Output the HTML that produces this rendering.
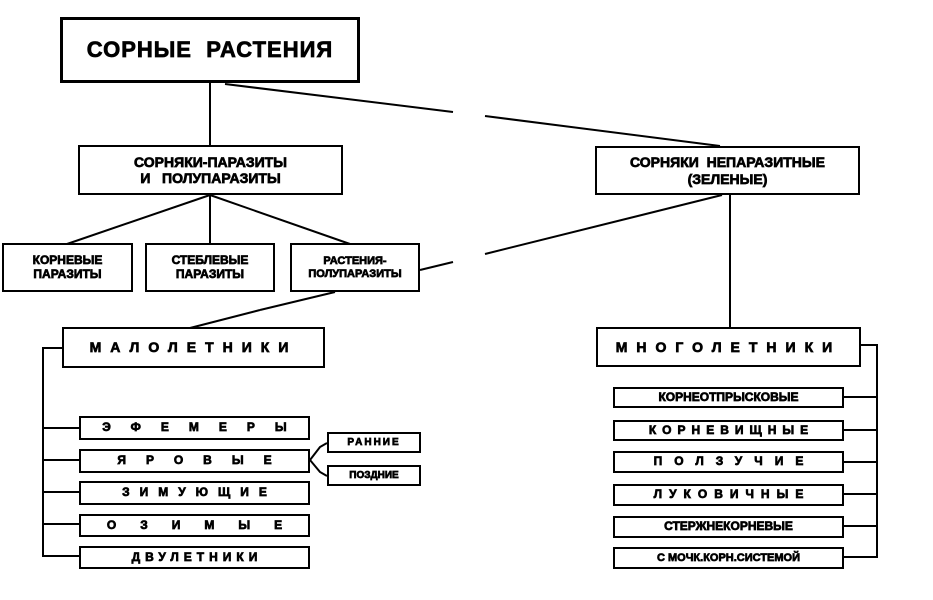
<!DOCTYPE html>
<html><head><meta charset="utf-8"><style>
body{margin:0;background:#fff;width:933px;height:600px;overflow:hidden;position:relative;font-family:"Liberation Sans","DejaVu Sans",sans-serif;font-weight:bold;color:#000}
.b{position:absolute;border:2px solid #000;box-sizing:border-box;display:flex;align-items:center;justify-content:center;text-align:center;background:#fff;line-height:1.15;white-space:nowrap;-webkit-text-stroke:0.7px #000}
svg{position:absolute;left:0;top:0}
</style></head><body>
<svg width="933" height="600"><g stroke="#000" stroke-width="2" fill="none">
<line x1="210" y1="83" x2="210" y2="146"/>
<line x1="225" y1="84" x2="453" y2="112"/>
<line x1="485" y1="116" x2="720" y2="146"/>
<line x1="210" y1="195" x2="67" y2="244"/>
<line x1="210" y1="195" x2="210" y2="244"/>
<line x1="210" y1="195" x2="350" y2="244"/>
<line x1="420" y1="270" x2="453" y2="262"/>
<line x1="485" y1="254" x2="722" y2="195"/>
<line x1="335" y1="292" x2="260" y2="310"/>
<line x1="260" y1="310" x2="190" y2="328"/>
<line x1="730" y1="195" x2="730" y2="328"/>
<polyline points="62,348 43,348 43,556 79,556"/>
<line x1="43" y1="428" x2="79" y2="428"/>
<line x1="43" y1="460" x2="79" y2="460"/>
<line x1="43" y1="492" x2="79" y2="492"/>
<line x1="43" y1="524" x2="79" y2="524"/>
<polyline points="327,443 320,447 310,460 320,472 327,476"/>
<polyline points="861,345 877,345 877,557 844,557"/>
<line x1="844" y1="397" x2="877" y2="397"/>
<line x1="844" y1="430" x2="877" y2="430"/>
<line x1="844" y1="462" x2="877" y2="462"/>
<line x1="844" y1="494" x2="877" y2="494"/>
<line x1="844" y1="526" x2="877" y2="526"/>
</g></svg>
<div class="b" style="left:60px;top:17px;width:300px;height:66px;border-width:3px;font-size:22px;letter-spacing:1px">СОРНЫЕ&nbsp; РАСТЕНИЯ</div>
<div class="b" style="left:78px;top:145px;width:265px;height:50px;font-size:14px">СОРНЯКИ-ПАРАЗИТЫ<br>И&nbsp;&nbsp; ПОЛУПАРАЗИТЫ</div>
<div class="b" style="left:595px;top:146px;width:265px;height:49px;font-size:14px">СОРНЯКИ&nbsp; НЕПАРАЗИТНЫЕ<br>(ЗЕЛЕНЫЕ)</div>
<div class="b" style="left:2px;top:243px;width:131px;height:49px;font-size:12px">КОРНЕВЫЕ<br>ПАРАЗИТЫ</div>
<div class="b" style="left:145px;top:243px;width:130px;height:49px;font-size:12px">СТЕБЛЕВЫЕ<br>ПАРАЗИТЫ</div>
<div class="b" style="left:290px;top:243px;width:130px;height:49px;font-size:11px">РАСТЕНИЯ-<br>ПОЛУПАРАЗИТЫ</div>
<div class="b" style="left:62px;top:327px;width:263px;height:41px;font-size:14px;letter-spacing:9px">МАЛОЛЕТНИКИ</div>
<div class="b" style="left:596px;top:327px;width:265px;height:40px;font-size:14px;letter-spacing:9px">МНОГОЛЕТНИКИ</div>
<div class="b" style="left:79px;top:416px;width:231px;height:24px;font-size:12px;letter-spacing:20px;padding-left:20px">ЭФЕМЕРЫ</div>
<div class="b" style="left:79px;top:449px;width:231px;height:24px;font-size:12px;letter-spacing:20px;padding-left:20px">ЯРОВЫЕ</div>
<div class="b" style="left:79px;top:481px;width:231px;height:24px;font-size:12px;letter-spacing:10px;padding-left:10px">ЗИМУЮЩИЕ</div>
<div class="b" style="left:79px;top:514px;width:231px;height:23px;font-size:12px;letter-spacing:24px;padding-left:24px">ОЗИМЫЕ</div>
<div class="b" style="left:79px;top:546px;width:231px;height:23px;font-size:12px;letter-spacing:5px;padding-left:5px">ДВУЛЕТНИКИ</div>
<div class="b" style="left:327px;top:432px;width:94px;height:21px;font-size:10px;letter-spacing:2px">РАННИЕ</div>
<div class="b" style="left:327px;top:465px;width:94px;height:21px;font-size:10px">ПОЗДНИЕ</div>
<div class="b" style="left:613px;top:387px;width:231px;height:21px;font-size:12px">КОРНЕОТПРЫСКОВЫЕ</div>
<div class="b" style="left:613px;top:420px;width:231px;height:21px;font-size:12px;letter-spacing:6px;padding-left:6px">КОРНЕВИЩНЫЕ</div>
<div class="b" style="left:613px;top:451px;width:231px;height:22px;font-size:12px;letter-spacing:12px;padding-left:12px">ПОЛЗУЧИЕ</div>
<div class="b" style="left:613px;top:484px;width:231px;height:22px;font-size:12px;letter-spacing:7px;padding-left:7px">ЛУКОВИЧНЫЕ</div>
<div class="b" style="left:613px;top:516px;width:231px;height:22px;font-size:12px">СТЕРЖНЕКОРНЕВЫЕ</div>
<div class="b" style="left:613px;top:547px;width:231px;height:22px;font-size:11px">С МОЧК.КОРН.СИСТЕМОЙ</div>
</body></html>
